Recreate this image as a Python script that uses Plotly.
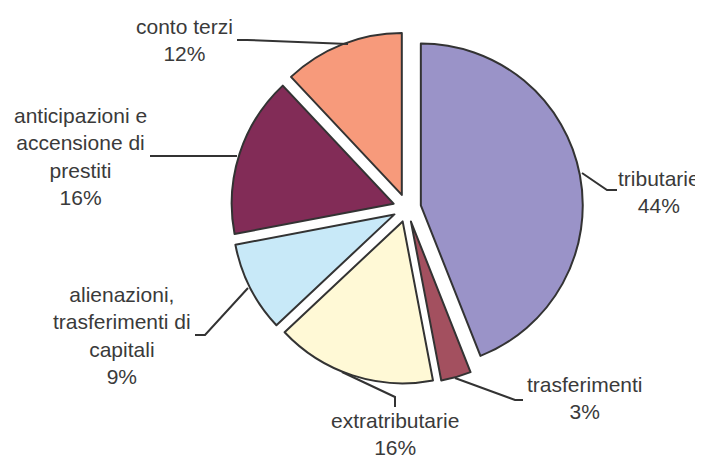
import plotly.graph_objects as go

categories = ["tributarie", "trasferimenti", "extratributarie",
              "alienazioni, trasferimenti di capitali",
              "anticipazioni e accensione di prestiti", "conto terzi"]
values = [44, 3, 16, 9, 16, 12]
colors = ["#9A93C8", "#A3505F", "#FFF9D6", "#C8E9F8", "#822C57", "#F79A7B"]
label_texts = ["tributarie<br>44%", "trasferimenti<br>3%", "extratributarie<br>16%",
               "alienazioni,<br>trasferimenti di<br>capitali<br>9%",
               "anticipazioni e<br>accensione di<br>prestiti<br>16%", "conto terzi<br>12%"]

W, H = 703, 459
OFF = 8  # page body margin offset
# label centres (pixels) and leader polylines (pixels, reference image coordinates)
label_pos = [(659, 192), (585, 398), (395, 434), (122, 335), (80, 156), (184, 40)]
leaders = [
    [(582, 173), (607, 190), (617, 190)],
    [(455, 378), (515, 400), (523, 400)],
    [(342, 372), (395, 397), (395, 407)],
    [(248, 288), (205, 335), (195, 335)],
    [(237, 156), (150, 156)],
    [(348, 44), (247, 40), (237, 40)],
]

def px(x, y):
    return (x - OFF) / W, 1 - (y - OFF) / H

x0, y0 = px(231, 384)
x1, y1 = px(583, 32)

fig = go.Figure(go.Pie(
    labels=categories, values=values, sort=False, direction="clockwise",
    rotation=0, pull=0.087, textinfo="none", hoverinfo="label+percent",
    marker=dict(colors=colors, line=dict(color="#333333", width=2)),
    domain=dict(x=[x0, x1], y=[y0, y1]),
    showlegend=False,
))

for (x, y), t in zip(label_pos, label_texts):
    xx, yy = px(x, y)
    fig.add_annotation(x=xx, y=yy, xref="paper", yref="paper", text=t,
                       showarrow=False, xanchor="center", yanchor="middle",
                       borderpad=0,
                       font=dict(family="Liberation Sans, Arial, sans-serif", size=21, color="#3a3a3a"))

for pts in leaders:
    path = ""
    for i, (x, y) in enumerate(pts):
        xx, yy = px(x, y)
        path += ("M" if i == 0 else " L") + f" {xx} {yy}"
    fig.add_shape(type="path", path=path, xref="paper", yref="paper",
                  line=dict(color="#333333", width=2))

fig.update_layout(width=W, height=H, margin=dict(l=0, r=0, t=0, b=0),
                  paper_bgcolor="white", plot_bgcolor="white")
fig.write_html("out.html")
